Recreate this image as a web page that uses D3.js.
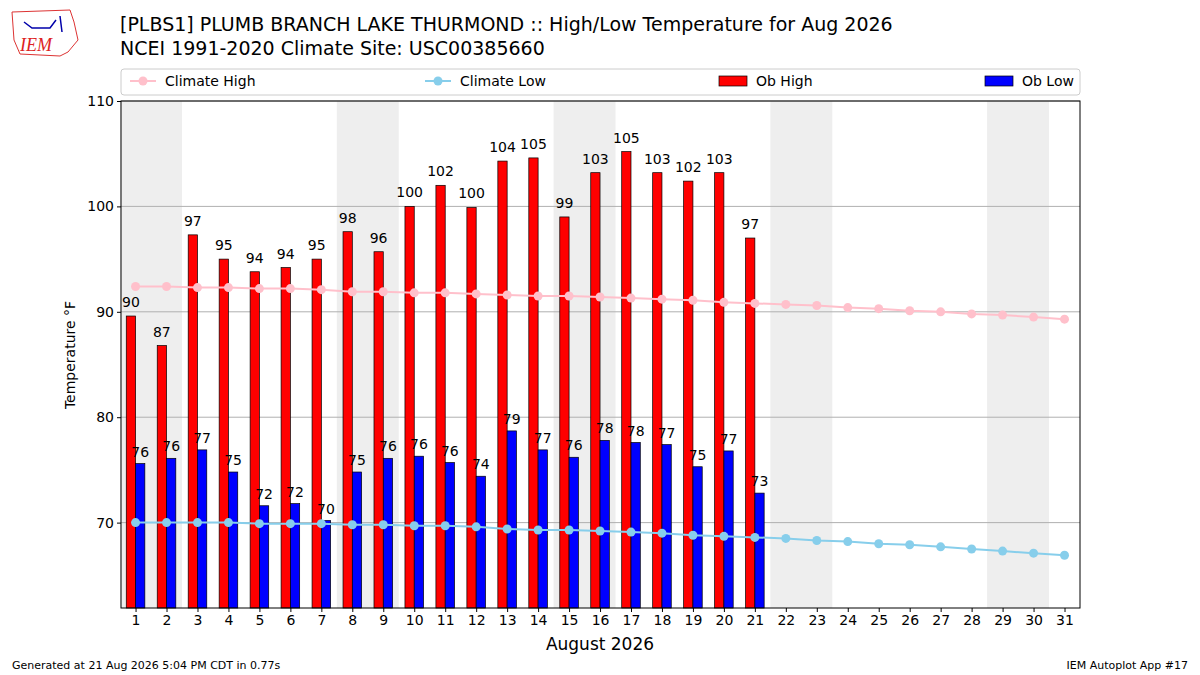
<!DOCTYPE html>
<html><head><meta charset="utf-8">
<script src="https://cdn.jsdelivr.net/npm/d3@7"></script>
<style>body{margin:0;background:#fff}svg{font-family:"DejaVu Sans",sans-serif}</style>
</head><body><svg id="c" width="1200" height="675"></svg>
<script>
const days = d3.range(1,32);
const obHigh = [89.6,86.8,97.3,95,93.8,94.2,95,97.6,95.7,100,102,99.9,104.3,104.6,99,103.2,105.2,103.2,102.4,103.2,97];
const obLow = [75.6,76.1,76.9,74.8,71.6,71.8,70.2,74.8,76.1,76.3,75.7,74.4,78.7,76.9,76.2,77.8,77.6,77.4,75.3,76.8,72.8];
const climHigh = [92.4,92.4,92.3,92.3,92.2,92.2,92.1,91.9,91.9,91.8,91.8,91.7,91.6,91.5,91.5,91.4,91.3,91.2,91.1,90.9,90.8,90.7,90.6,90.4,90.3,90.1,90.0,89.8,89.7,89.5,89.3];
const climLow = [70.0,70.0,70.0,70.0,69.9,69.9,69.9,69.8,69.8,69.7,69.7,69.6,69.4,69.3,69.3,69.2,69.1,69.0,68.8,68.7,68.6,68.5,68.3,68.2,68.0,67.9,67.7,67.5,67.3,67.1,66.9];
const weekends = [1,8,15,22,29];
const yTicks = [70,80,90,100,110];

const svg = d3.select("#c");
const L=121,R=1080,T=101,B=608;
const x = d3.scaleLinear().domain([0.53,31.5]).range([L,R]);
const y = d3.scaleLinear().domain([61.9,110]).range([B,T]);
const bw = x(1.3)-x(1);

weekends.forEach(d=>svg.append("rect").attr("x",x(d-0.5)).attr("width",x(d+1.5)-x(d-0.5)).attr("y",T).attr("height",B-T).attr("fill","#eeeeee"));
svg.append("g").selectAll("line").data(yTicks).join("line").attr("x1",L).attr("x2",R).attr("y1",d=>y(d)).attr("y2",d=>y(d)).attr("stroke","#b0b0b0").attr("stroke-width",1);

const g = svg.append("g");
g.selectAll(".h").data(obHigh).join("rect").attr("x",(d,i)=>x(i+1)-bw).attr("width",bw).attr("y",d=>y(d)).attr("height",d=>B-y(d)).attr("fill","#ff0000").attr("stroke","#000").attr("stroke-width",0.7);
g.selectAll(".l").data(obLow).join("rect").attr("x",(d,i)=>x(i+1)).attr("width",bw).attr("y",d=>y(d)).attr("height",d=>B-y(d)).attr("fill","#0000ff").attr("stroke","#000").attr("stroke-width",0.7);
g.selectAll(".ht").data(obHigh).join("text").attr("x",(d,i)=>x(i+1)-bw/2).attr("y",d=>y(d)-9).attr("text-anchor","middle").attr("font-size",14).text(d=>Math.round(d));
g.selectAll(".lt").data(obLow).join("text").attr("x",(d,i)=>x(i+1)+bw/2).attr("y",d=>y(d)-7).attr("text-anchor","middle").attr("font-size",14).text(d=>Math.round(d));

function line(data,col){
  svg.append("path").datum(data).attr("d",d3.line().x((d,i)=>x(i+1)).y(d=>y(d))).attr("fill","none").attr("stroke",col).attr("stroke-width",2);
  svg.append("g").selectAll("circle").data(data).join("circle").attr("cx",(d,i)=>x(i+1)).attr("cy",d=>y(d)).attr("r",4.5).attr("fill",col);
}
line(climHigh,"#ffc0cb"); line(climLow,"#87ceeb");

svg.append("rect").attr("x",L).attr("y",T).attr("width",R-L).attr("height",B-T).attr("fill","none").attr("stroke","#000");
const xa = svg.append("g").attr("transform",`translate(0,${B})`).call(d3.axisBottom(x).tickValues(days).tickSize(4).tickFormat(d3.format("d")));
const ya = svg.append("g").attr("transform",`translate(${L},0)`).call(d3.axisLeft(y).tickValues(yTicks).tickSize(4));
[xa,ya].forEach(a=>{a.select(".domain").remove();a.selectAll("text").attr("font-size",14).attr("font-family","DejaVu Sans");});
svg.append("text").attr("x",600).attr("y",650).attr("text-anchor","middle").attr("font-size",17).text("August 2026");
svg.append("text").attr("transform","translate(75,355) rotate(-90)").attr("text-anchor","middle").attr("font-size",14).text("Temperature °F");

svg.append("text").attr("x",120).attr("y",31).attr("font-size",19).text("[PLBS1] PLUMB BRANCH LAKE THURMOND :: High/Low Temperature for Aug 2026");
svg.append("text").attr("x",120).attr("y",55).attr("font-size",19).text("NCEI 1991-2020 Climate Site: USC00385660");
svg.append("text").attr("x",12).attr("y",669).attr("font-size",11).text("Generated at 21 Aug 2026 5:04 PM CDT in 0.77s");
svg.append("text").attr("x",1188).attr("y",669).attr("text-anchor","end").attr("font-size",11).text("IEM Autoplot App #17");

svg.append("rect").attr("x",L).attr("y",69).attr("width",R-L).attr("height",26).attr("rx",3).attr("fill","#fff").attr("stroke","#ccc");
[[130,"#ffc0cb","Climate High"],[425,"#87ceeb","Climate Low"]].forEach(([lx,c,t])=>{
  svg.append("line").attr("x1",lx).attr("x2",lx+26).attr("y1",81).attr("y2",81).attr("stroke",c).attr("stroke-width",2);
  svg.append("circle").attr("cx",lx+13).attr("cy",81).attr("r",4.5).attr("fill",c);
  svg.append("text").attr("x",lx+35).attr("y",86).attr("font-size",14).text(t);
});
[[719,"#ff0000","Ob High"],[985,"#0000ff","Ob Low"]].forEach(([lx,c,t])=>{
  svg.append("rect").attr("x",lx).attr("y",76).attr("width",28).attr("height",10).attr("fill",c).attr("stroke","#000").attr("stroke-width",0.7);
  svg.append("text").attr("x",lx+37).attr("y",86).attr("font-size",14).text(t);
});
svg.append("path").attr("d","M12,12 L70,10 L74,22 L78,40 L68,52 L60,56 L20,54 L14,40 Z").attr("fill","none").attr("stroke","#d33").attr("stroke-width",1);
svg.append("text").attr("x",20).attr("y",51).attr("font-size",18).attr("font-style","italic").attr("font-family","Liberation Serif").attr("fill","#d22").text("IEM");
svg.append("path").attr("d","M24,22 L32,28 L50,28 L56,20 M60,16 L62,32").attr("stroke","#00a").attr("fill","none").attr("stroke-width",1.5);
</script></body></html>
